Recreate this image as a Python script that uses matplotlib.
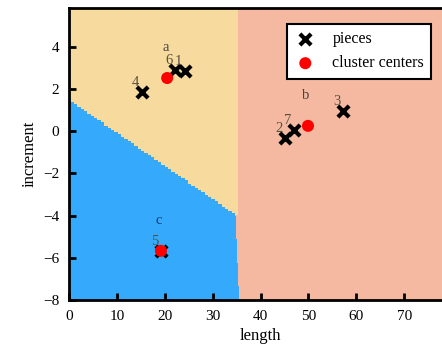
import matplotlib
matplotlib.use("Agg")
import matplotlib.pyplot as plt
from matplotlib.colors import ListedColormap
import numpy as np

# pieces (length, increment)
piece_ids = ["1", "2", "3", "4", "5", "6", "7"]
piece_x = [24.2, 45.1, 57.2, 15.2, 19.2, 22.1, 47.0]
piece_y = [2.86, -0.31, 0.97, 1.87, -5.67, 2.91, 0.07]

# cluster centers
center_names = ["a", "b", "c"]
center_x = [20.5, 49.9, 19.2]
center_y = [2.53, 0.26, -5.67]
center_colors = ["#444444", "#444444", "#1f3a6e"]

# decision region boundaries
ab_split = 35.3          # vertical split between a and b
cb_split = 34.8          # split between c and b at increment -4
cb_lean = -0.18          # lean of the c/b split below -4
ac_intercept = 1.5       # a/c boundary at length 0
ac_slope = -0.157        # a/c boundary slope

region_colors = ["#F6DA9E", "#F4B9A0", "#35A9FB"]

plt.rcParams['font.family'] = ['Liberation Serif', 'DejaVu Serif']

fig = plt.figure(figsize=(4.42, 3.50), dpi=100)
ax = fig.add_axes([0.156, 0.143, 0.867, 0.834])

# decision regions on a grid (coarse steps along the a/c border)
gx = np.arange(0, 80.1, 0.1)
gy = np.arange(-8, 6.05, 0.05)
X, Y = np.meshgrid(gx, gy)
Xs = np.round(X / 0.7) * 0.7
labels = np.zeros_like(X, dtype=int)
is_c = Y < ac_intercept + ac_slope * Xs
labels[is_c] = 2
labels[~is_c & (X > ab_split)] = 1
cb_edge = cb_split + cb_lean * np.minimum(Y + 4, 0)
labels[is_c & (X > cb_edge)] = 1
ax.pcolormesh(X, Y, labels, cmap=ListedColormap(region_colors), vmin=-0.5, vmax=2.5,
              shading="nearest", rasterized=True)

ax.scatter(piece_x, piece_y, marker="x", s=65, c="black", linewidths=3,
           label="pieces", zorder=3)
ax.scatter(center_x, center_y, marker="o", s=75, c="#ff0000", edgecolors="none",
           label="cluster centers", zorder=4)

for pid, x, y in zip(piece_ids, piece_x, piece_y):
    ax.text(x - 1.3, y + 0.15, pid, fontsize=10.5, color="#5a5040", ha="center", va="bottom", zorder=5)
for name, x, y, c in zip(center_names, center_x, center_y, center_colors):
    ax.text(x - 0.4, y + 1.15, name, fontsize=10.5, color=c, ha="center", va="bottom", zorder=5)

ax.set_xlim(0, 80)
ax.set_ylim(-8, 5.85)
ax.set_xticks(np.arange(0, 80, 10))
ax.set_yticks(np.arange(-8, 5, 2))
ax.tick_params(direction="in", length=5, width=2, labelsize=11, pad=7)
for sp in ax.spines.values():
    sp.set_linewidth(2)

ax.set_xlabel("length", fontsize=12, labelpad=4)
ax.set_ylabel("increment", fontsize=12, labelpad=4)

leg = ax.legend(loc="upper left", bbox_to_anchor=(0.548, 0.972), fontsize=11.5,
                frameon=True, fancybox=False, edgecolor="black", framealpha=1,
                handlelength=1.4, handletextpad=1.0, borderpad=0.45, labelspacing=0.5)
leg.get_frame().set_linewidth(1.5)

fig.savefig("out.png", dpi=100)
